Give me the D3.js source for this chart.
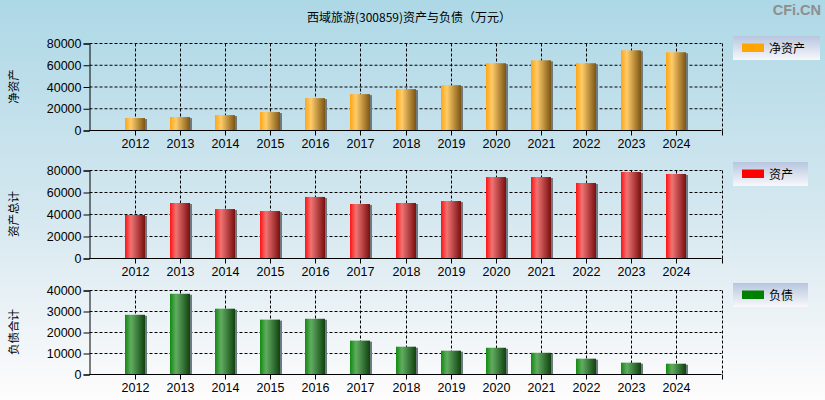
<!DOCTYPE html>
<html>
<head>
<meta charset="utf-8">
<script src="https://cdn.jsdelivr.net/npm/d3@7"></script>
<style>
html,body{margin:0;padding:0;}
svg{display:block;}
</style>
</head>
<body>
<svg id="chart" width="825" height="400"></svg>
<script>
const years = ["2012","2013","2014","2015","2016","2017","2018","2019","2020","2021","2022","2023","2024"];
const netAssets = [11000,11900,13700,16500,29300,33000,37600,41200,61400,64100,61400,73300,71500];
const totalAssets = [39100,50000,44500,42700,55500,49100,50000,51800,73600,73600,68200,78200,76400];
const totalLiabilities = [28200,38200,31100,25900,26300,15900,13000,11100,12500,10100,7300,5400,4900];
const ticksAssets = [0,20000,40000,60000,80000];
const ticksLiab = [0,10000,20000,30000,40000];
const titleText = "西域旅游(300859)资产与负债（万元）";

const svg = d3.select("#chart");
const W = 825, H = 400;
const defs = svg.append("defs");

const bg = defs.append("linearGradient").attr("id","bg").attr("x1",0).attr("y1",0).attr("x2",0).attr("y2",1);
bg.append("stop").attr("offset","0%").attr("stop-color","#add8e6");
bg.append("stop").attr("offset","55%").attr("stop-color","#d6e8f0");
bg.append("stop").attr("offset","100%").attr("stop-color","#fefcfc");
svg.append("rect").attr("width",W).attr("height",H).attr("fill","url(#bg)");

const lg = defs.append("linearGradient").attr("id","legbg").attr("x1",0).attr("y1",0).attr("x2",0).attr("y2",1);
lg.append("stop").attr("offset","0%").attr("stop-color","#b7c6df");
lg.append("stop").attr("offset","100%").attr("stop-color","#f8f8fb");

function barGrad(id, c0, c1, c2){
  const g = defs.append("linearGradient").attr("id",id).attr("x1",0).attr("y1",0).attr("x2",1).attr("y2",0);
  g.append("stop").attr("offset","0%").attr("stop-color",c0);
  g.append("stop").attr("offset","30%").attr("stop-color",c1);
  g.append("stop").attr("offset","100%").attr("stop-color",c2);
}
barGrad("gOrange","#ffa514","#ffcc6a","#7c5512");
barGrad("gRed","#ff1212","#f07474","#7a0e0e");
barGrad("gGreen","#0f8a0f","#62ad62","#0f420f");

// title
svg.append("text").attr("x",409).attr("y",22).attr("text-anchor","middle")
  .attr("font-family","'Noto Sans CJK SC', sans-serif").attr("font-size",12).attr("fill","#000").text(titleText);
// watermark
svg.append("text").attr("x",821).attr("y",15).attr("text-anchor","end")
  .attr("font-family","'Liberation Sans', Arial, sans-serif").attr("font-weight","bold").attr("font-size",14.5)
  .attr("fill","#8e8e8e").text("CFi.CN");

const x = d3.scaleLinear().domain([0, years.length + 1]).range([89.5, 721.5]);

const panels = [
  {values: netAssets, ticks: ticksAssets, max: 80000, top: 43, bottom: 130, fill: "url(#gOrange)", label: "净资产", legend: "净资产", swatch: "#ffa500", legTop: 36, legW: 87},
  {values: totalAssets, ticks: ticksAssets, max: 80000, top: 170, bottom: 258, fill: "url(#gRed)", label: "资产总计", legend: "资产", swatch: "#ff0000", legTop: 162, legW: 75},
  {values: totalLiabilities, ticks: ticksLiab, max: 40000, top: 290, bottom: 374, fill: "url(#gGreen)", label: "负债合计", legend: "负债", swatch: "#008000", legTop: 283, legW: 75}
];

const numFont = "'Liberation Sans', Arial, sans-serif";
const cjkFont = "'Noto Sans CJK SC', sans-serif";

panels.forEach(p => {
  const y = d3.scaleLinear().domain([0, p.max]).range([p.bottom + 0.5, p.top + 0.5]);
  const g = svg.append("g");
  const x0 = x.range()[0], x1 = x.range()[1];

  // horizontal grid
  g.append("g").selectAll("line").data(p.ticks.slice(1)).join("line")
    .attr("x1", x0).attr("x2", x1).attr("y1", d => y(d)).attr("y2", d => y(d))
    .attr("stroke","#000").attr("stroke-width",1).attr("stroke-dasharray","3,2");
  // vertical grid
  const vx = d3.range(1, years.length + 2);
  g.append("g").selectAll("line").data(vx).join("line")
    .attr("x1", d => Math.round(x(d)) + 0.5).attr("x2", d => Math.round(x(d)) + 0.5)
    .attr("y1", y(p.max)).attr("y2", y(0))
    .attr("stroke","#000").attr("stroke-width",1).attr("stroke-dasharray","3,2");

  // bars shadow + bars
  const bw = 20;
  g.append("g").selectAll("rect").data(p.values).join("rect")
    .attr("x", (d,i) => Math.round(x(i+1)) - bw/2 + 2)
    .attr("y", d => y(d) - 0.5 + 1)
    .attr("width", bw).attr("height", d => y(0) - y(d) - 1)
    .attr("fill","#6f7a80");
  g.append("g").selectAll("rect").data(p.values).join("rect")
    .attr("x", (d,i) => Math.round(x(i+1)) - bw/2)
    .attr("y", d => y(d) - 0.5)
    .attr("width", bw).attr("height", d => y(0) - y(d))
    .attr("fill", p.fill);

  // left axis
  const ya = d3.axisLeft(y).tickValues(p.ticks).tickSize(6).tickPadding(2).tickFormat(d3.format("d"));
  const yg = g.append("g").attr("transform", `translate(${x0},0)`).call(ya);
  yg.select(".domain").attr("stroke","#000");
  yg.selectAll(".tick line").attr("stroke","#000");
  yg.selectAll("text").attr("font-family", numFont).attr("font-size",12.5).attr("fill","#000");

  // bottom axis
  const xa = d3.axisBottom(x).tickValues(d3.range(1, years.length + 2)).tickSize(5).tickPadding(4)
    .tickFormat(d => d <= years.length ? years[d-1] : "");
  const xg = g.append("g").attr("transform", `translate(0,${y(0)})`).call(xa);
  xg.select(".domain").attr("stroke","#000").attr("d", `M${x0},0H${x1}`);
  xg.selectAll(".tick").attr("transform", d => `translate(${Math.round(x(d)) + 0.5},0)`);
  xg.selectAll(".tick line").attr("stroke","#000");
  xg.selectAll("text").attr("font-family", numFont).attr("font-size",12.5).attr("fill","#000");

  // y label
  const cy = (p.top + p.bottom) / 2;
  g.append("text").attr("transform", `translate(18,${cy}) rotate(-90)`).attr("text-anchor","middle")
    .attr("font-family", cjkFont).attr("font-size",11.5).attr("fill","#000").text(p.label);

  // legend
  const lx = 733, lw = p.legW, lh = 24;
  g.append("rect").attr("x", lx).attr("y", p.legTop).attr("width", lw).attr("height", lh).attr("fill","url(#legbg)");
  g.append("rect").attr("x", lx + 9).attr("y", p.legTop + 7.5).attr("width", 22).attr("height", 8.5).attr("fill", p.swatch);
  g.append("text").attr("x", lx + 36).attr("y", p.legTop + 16.5)
    .attr("font-family", cjkFont).attr("font-size",12).attr("fill","#000").text(p.legend);
});
</script>
</body>
</html>
